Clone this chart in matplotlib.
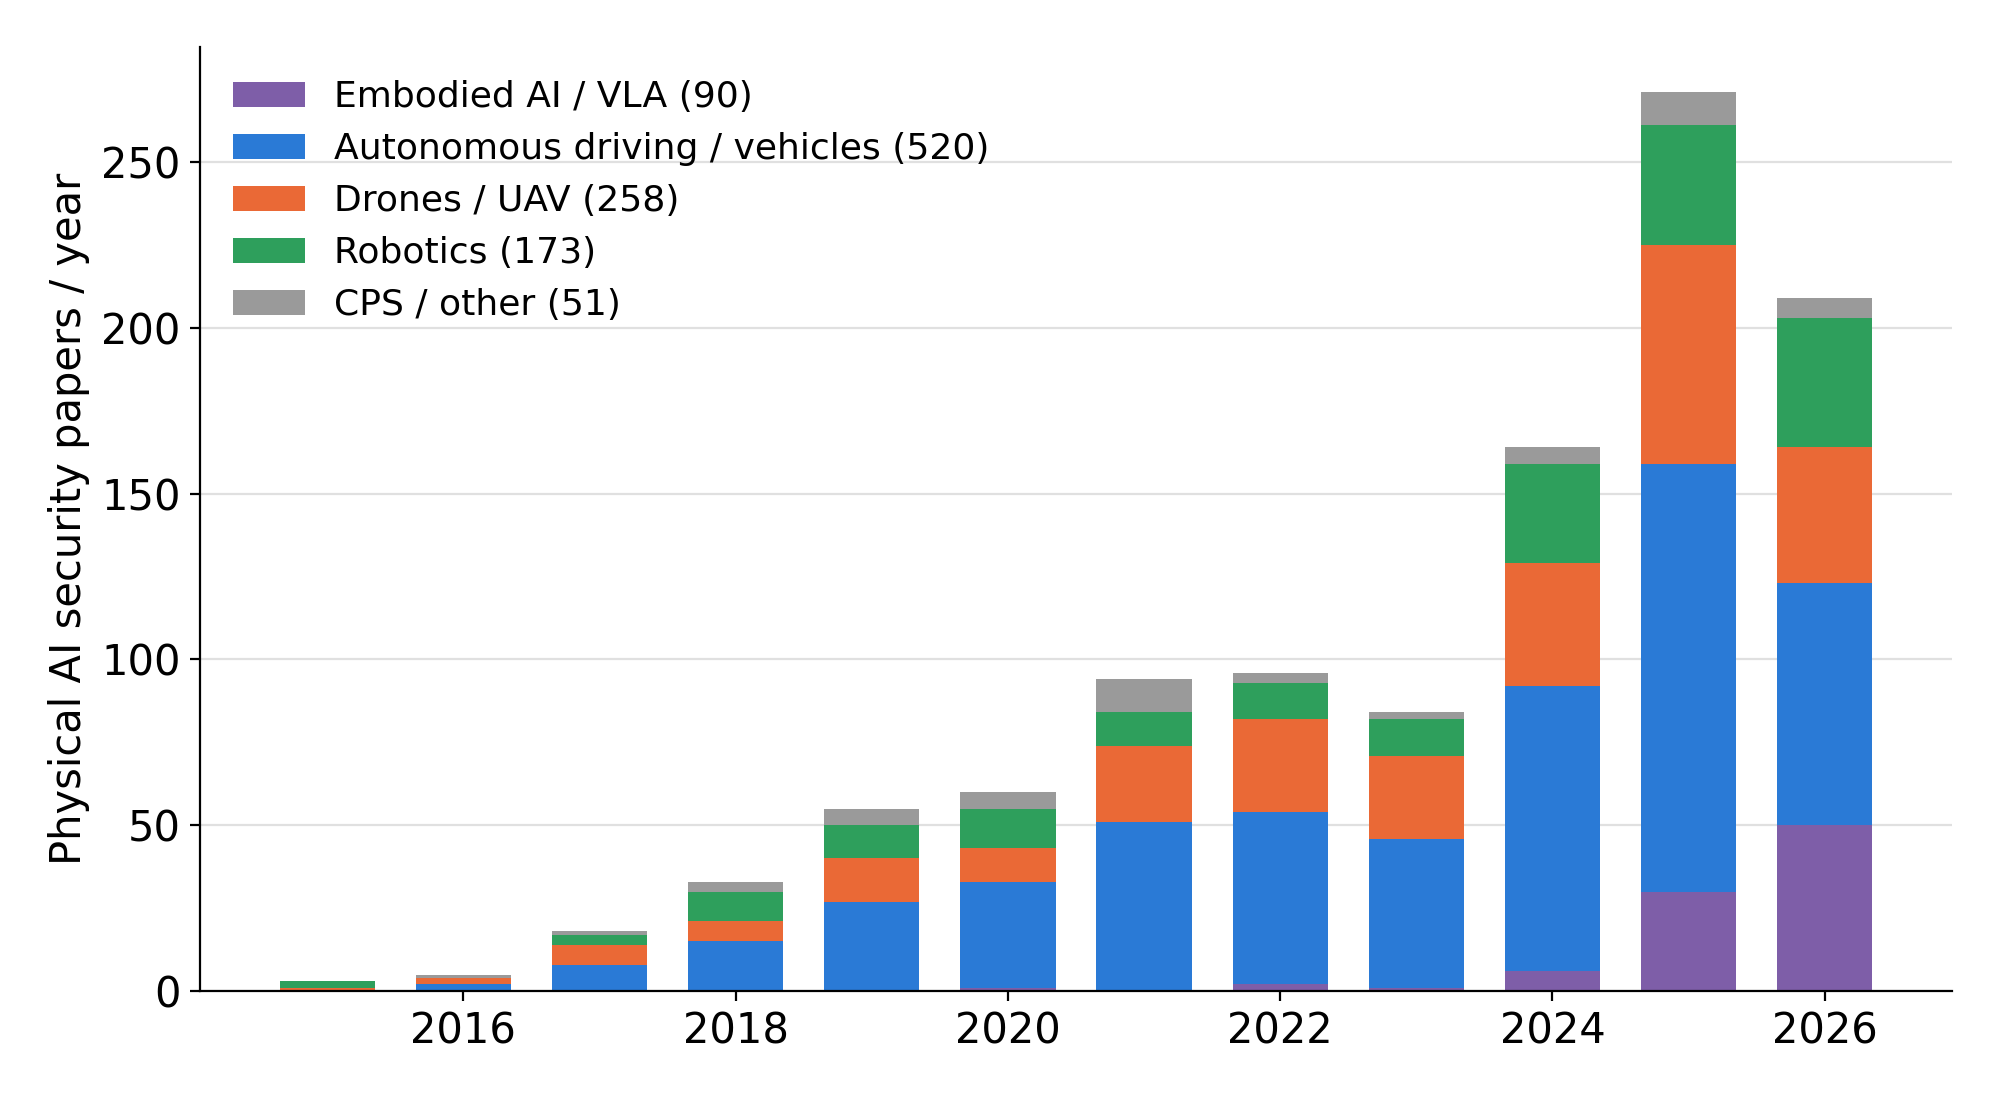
import numpy as np
import matplotlib.pyplot as plt

years = np.arange(2015, 2027)
embodied   = [0, 0, 0, 0, 0, 1, 0, 2, 1, 6, 30, 50]
autonomous = [0, 2, 8, 15, 27, 32, 51, 52, 45, 86, 129, 73]
drones     = [1, 2, 6, 6, 13, 10, 23, 28, 25, 37, 66, 41]
robotics   = [2, 0, 3, 9, 10, 12, 10, 11, 11, 30, 36, 39]
cps        = [0, 1, 1, 3, 5, 5, 10, 3, 2, 5, 10, 6]

series = [embodied, autonomous, drones, robotics, cps]
names = ["Embodied AI / VLA", "Autonomous driving / vehicles", "Drones / UAV",
         "Robotics", "CPS / other"]
colors = ["#7e5ea8", "#2a7ad6", "#ea6936", "#2e9f5c", "#9a9a9a"]

fig, ax = plt.subplots(figsize=(10, 5.5), dpi=200)
fig.subplots_adjust(left=0.1, right=0.976, top=0.957, bottom=0.099)

bottom = np.zeros(len(years))
for vals, name, c in zip(series, names, colors):
    vals = np.array(vals)
    ax.bar(years, vals, 0.7, bottom=bottom, color=c,
           label=f"{name} ({vals.sum()})", zorder=2)
    bottom += vals

ax.set_ylabel("Physical AI security papers / year", fontsize=15)
ax.tick_params(labelsize=15)
ax.grid(axis="y", color="#e0e0e0", linewidth=0.8, zorder=0)
ax.set_axisbelow(True)
for s in ["top", "right"]:
    ax.spines[s].set_visible(False)
ax.legend(loc="upper left", frameon=False, fontsize=13)

fig.savefig("out.png")
